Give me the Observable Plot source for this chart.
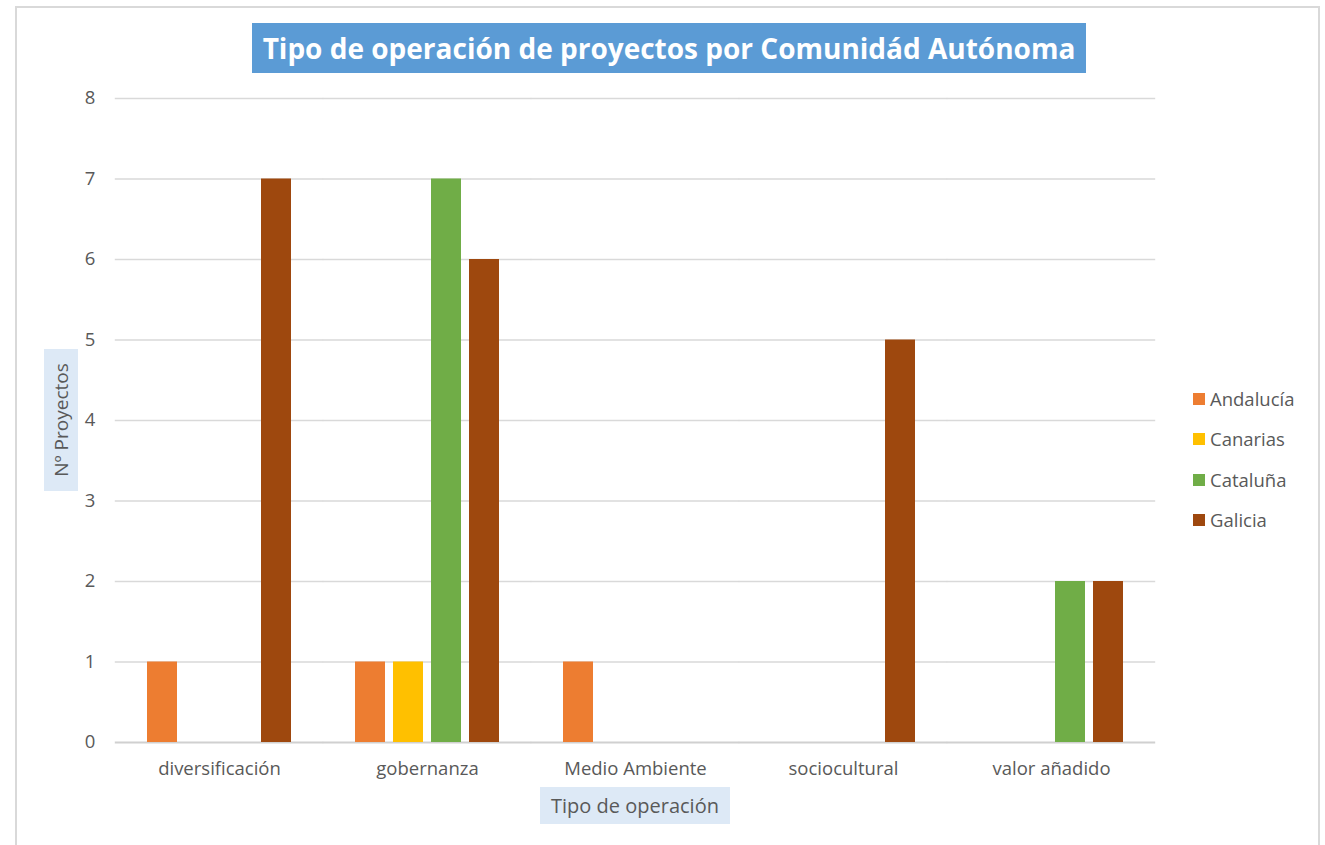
<!DOCTYPE html>
<html>
<head>
<meta charset="utf-8">
<script src="https://cdn.jsdelivr.net/npm/d3@7"></script>
<script src="https://cdn.jsdelivr.net/npm/@observablehq/plot@0.6"></script>
<style>
  html, body { margin: 0; padding: 0; background: #fff; }
  body { width: 1325px; height: 845px; overflow: hidden; position: relative; font-family: "Open Sans", sans-serif; }
  #frame { position: absolute; left: 15px; top: 6px; width: 1305px; height: 900px; border: 2px solid #d9d9d9; box-sizing: border-box; }
  #chart { position: absolute; left: 0; top: 0; }
  #title { position: absolute; left: 252px; top: 23px; width: 834px; height: 50px; background: #5b9bd5; color: #fff;
           font: bold 28px "Open Sans", sans-serif; display: flex; align-items: center; justify-content: center; letter-spacing: 0px; white-space: nowrap; }
  #ylab { position: absolute; left: 44px; top: 349px; width: 34px; height: 142px; background: #dde9f6; }
  #ylab span { position: absolute; left: 50%; top: 50%; transform: translate(-50%, -50%) rotate(-90deg); white-space: nowrap;
               font: 19px "Open Sans", sans-serif; color: #595959; letter-spacing: 0px; }
  #xlab { position: absolute; left: 540px; top: 787px; width: 190px; height: 37px; background: #dde9f6; color: #595959;
          font: 20px "Open Sans", sans-serif; display: flex; align-items: center; justify-content: center; letter-spacing: 0px; }
  #legend { position: absolute; left: 1193px; top: 386px; }
  .item { height: 40.4px; display: flex; align-items: flex-start; font: 18.5px "Open Sans", sans-serif; color: #595959; letter-spacing: 0px; }
  .sw { width: 12px; height: 12px; margin-right: 5px; margin-top: 7px; }
</style>
</head>
<body>
<div id="frame"></div>
<div id="chart"></div>
<div id="title">Tipo de operación de proyectos por Comunidád Autónoma</div>
<div id="ylab"><span>Nº Proyectos</span></div>
<div id="xlab">Tipo de operación</div>
<div id="legend"></div>
<script>
const categories = ["diversificación", "gobernanza", "Medio Ambiente", "sociocultural", "valor añadido"];
const regions = ["Andalucía", "Canarias", "Cataluña", "Galicia"];
const andalucia = [1, 1, 1, 0, 0];
const canarias  = [0, 1, 0, 0, 0];
const cataluna  = [0, 7, 0, 0, 2];
const galicia   = [7, 6, 0, 5, 2];
const yTicks = [0, 1, 2, 3, 4, 5, 6, 7, 8];
const colors = ["#ed7d31", "#ffc000", "#70ad47", "#9e480e"];

const seriesValues = [andalucia, canarias, cataluna, galicia];
const data = [];
categories.forEach((c, i) => {
  regions.forEach((r, j) => {
    data.push({category: c, region: r, value: seriesValues[j][i]});
  });
});

const W = 1325, ML = 115, MR = 170;
const fxPad = 0.3;
const step = (W - ML - MR) / categories.length;
const ext = -step * fxPad / 2; // extend gridlines across facet gaps

const plot = Plot.plot({
  width: W,
  height: 845,
  marginTop: 98,
  marginBottom: 103,
  marginLeft: ML,
  marginRight: MR,
  style: {fontFamily: "'Open Sans', sans-serif", fontSize: "16px", color: "#595959", background: "transparent"},
  fx: {domain: categories, paddingInner: fxPad, paddingOuter: fxPad / 2, label: null, axis: null},
  x: {domain: regions, paddingInner: 0.2, paddingOuter: 0, axis: null},
  y: {domain: [0, 8], label: null},
  color: {domain: regions, range: colors},
  marks: [
    Plot.ruleY(yTicks.filter(d => d > 0), {stroke: "#d9d9d9", strokeWidth: 1.3, insetLeft: ext, insetRight: ext}),
    Plot.ruleY([0], {stroke: "#d0d0d0", strokeWidth: 2, insetLeft: ext, insetRight: ext}),
    Plot.barY(data.filter(d => d.value > 0), {fx: "category", x: "region", y: "value", fill: "region"}),
    Plot.axisY({ticks: yTicks, tickSize: 0, tickPadding: 20 - ext, fontSize: 18.5, label: null}),
    Plot.axisFx({anchor: "bottom", tickSize: 0, tickPadding: 19, fontSize: 18.5, label: null})
  ]
});
document.getElementById("chart").appendChild(plot);

const legend = document.getElementById("legend");
regions.forEach((r, i) => {
  const item = document.createElement("div");
  item.className = "item";
  const sw = document.createElement("div");
  sw.className = "sw";
  sw.style.background = colors[i];
  const t = document.createElement("span");
  t.textContent = r;
  item.appendChild(sw);
  item.appendChild(t);
  legend.appendChild(item);
});
</script>
</body>
</html>
